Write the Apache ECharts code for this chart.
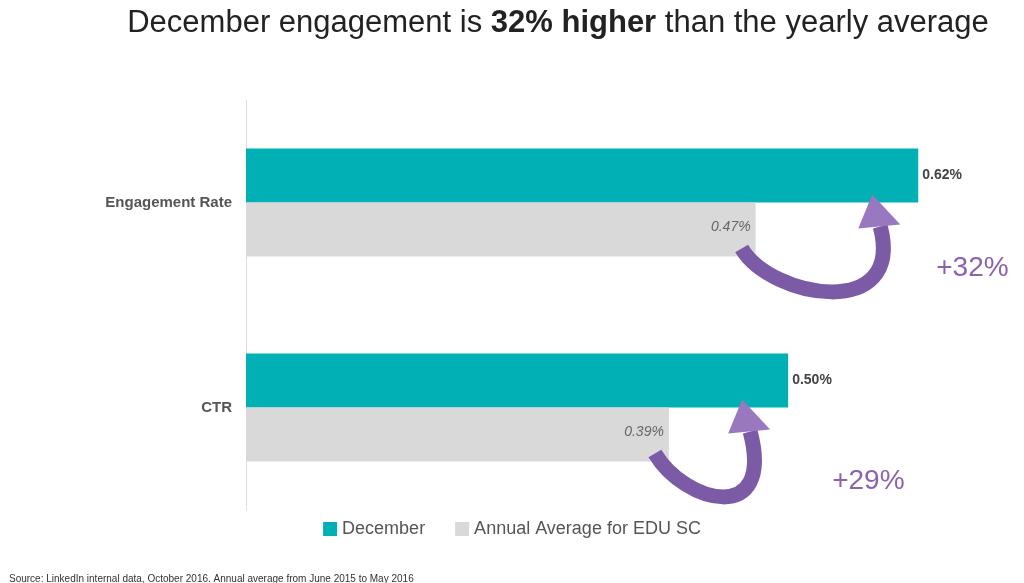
<!DOCTYPE html><html><head><meta charset="utf-8"><script src="https://cdn.jsdelivr.net/npm/echarts@6/dist/echarts.min.js"></script>
<style>html,body{margin:0;background:#fff}#c{width:1024px;height:583px}</style></head><body><div id="c"></div><script>
const categories=['Engagement Rate','CTR'];
const december=[0.62,0.50];
const annual=[0.47,0.39];
const increases=['+32%','+29%'];
const ch=echarts.init(document.getElementById('c'));
const opt={
 animation:false,
 title:[{text:'December engagement is {b|32% higher} than the yearly average',left:553,top:3,textAlign:'center',
  textStyle:{fontFamily:'Liberation Sans',fontSize:31,fontWeight:'normal',color:'#222',rich:{b:{fontFamily:'Liberation Sans',fontSize:31,fontWeight:'bold',color:'#222'}}}},
  {text:'Source: LinkedIn internal data, October 2016. Annual average from June 2015 to May 2016',left:4,top:569,textStyle:{fontSize:10,fontWeight:'normal',color:'#333',fontFamily:'Liberation Sans'}}],
 legend:{bottom:40,left:'center',itemWidth:14,itemHeight:14,icon:'rect',itemGap:30,textStyle:{fontSize:18,color:'#555',fontFamily:'Liberation Sans'}},
 grid:{left:246,right:19,top:100,bottom:73},
 xAxis:{type:'value',min:0,max:0.7,show:false},
 yAxis:{type:'category',data:categories,inverse:true,axisTick:{show:false},axisLine:{lineStyle:{color:'#ddd'}},
  axisLabel:{fontSize:15,fontWeight:'bold',color:'#555',margin:14,fontFamily:'Liberation Sans'}},
 series:[
  {name:'December',type:'bar',data:december,barWidth:54,barGap:'0%',itemStyle:{color:'#00b0b5'},
   label:{show:true,position:'right',formatter:p=>p.value.toFixed(2)+'%',fontSize:14,fontWeight:'bold',color:'#444',distance:4}},
  {name:'Annual Average for EDU SC',type:'bar',data:annual,barWidth:54,itemStyle:{color:'#d9d9d9'},
   label:{show:true,position:'insideRight',formatter:p=>p.value.toFixed(2)+'%',fontSize:14,fontStyle:'italic',color:'#666',offset:[0,-2]}}
 ]
};
ch.setOption(opt);
const g=[];
categories.forEach((c,i)=>{
 const s=ch.convertToPixel({gridIndex:0},[annual[i],c]);
 const e=ch.convertToPixel({gridIndex:0},[december[i],c]);
 const x0=s[0]-14,y0=s[1]+46,x1=e[0]-38,y1=e[1]+24;
 g.push({type:'bezierCurve',z:100,shape:{x1:x0,y1:y0,x2:x1,y2:y1,cpx1:x0+30,cpy1:y0+50,cpx2:x1+25,cpy2:y1+95},style:{stroke:'#7b5aa6',lineWidth:15,fill:null}});
 g.push({type:'polygon',z:101,shape:{points:[[x1-22,y1+2],[x1+20,y1-2],[x1-8,y1-32]]},style:{fill:'#9a78c0'}});
 g.push({type:'text',z:100,x:e[0]+(i==0?18:44),y:e[1]+(i==0?52:60),style:{text:increases[i],fontSize:28,fill:'#8a62b0',fontFamily:'Liberation Sans'}});
});
ch.setOption({graphic:g});
</script></body></html>
